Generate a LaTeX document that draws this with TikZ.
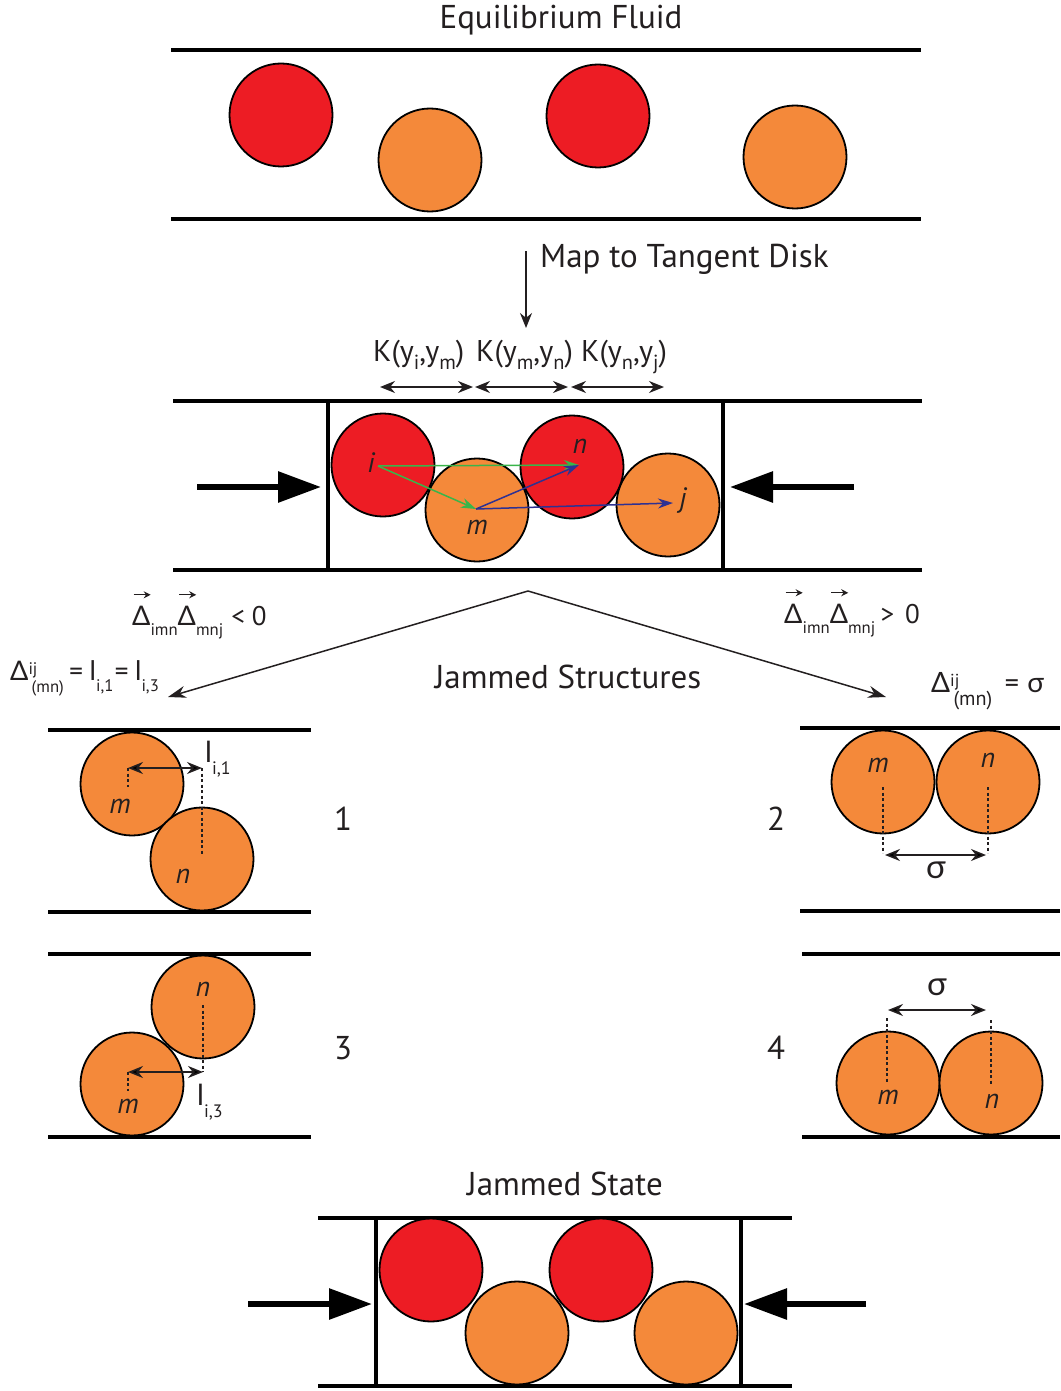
\documentclass[tikz,border=0pt]{standalone}
\usepackage{fontspec}
\usepackage{graphicx}
\setmainfont{PT Sans}
\newfontfamily\gk{Lato}
\usetikzlibrary{arrows.meta}
\definecolor{dred}{RGB}{237,28,36}
\definecolor{dorange}{RGB}{244,137,58}
\definecolor{dgreen}{RGB}{57,181,74}
\definecolor{dblue}{RGB}{46,49,146}
\definecolor{ink}{RGB}{35,31,32}
\newcommand\Dl{{\gk Δ}}
\newcommand\sg{{\gk σ}}
\newcommand\myl{{\gk l}}
\newcommand\sbs[2][0.38em]{\raisebox{-#1}{\scalebox{0.62}{#2}}}
\newcommand\ksb[1]{\raisebox{-0.27em}{\scalebox{0.68}{#1}}}
\newcommand\sps[2][0.2em]{\raisebox{#1}{\scalebox{0.62}{#2}}}
\newcommand\sbsp[3][0.62]{\rlap{\sps{#2}}\hspace{0.12em}\raisebox{-0.48em}{\scalebox{#1}{#3}}}
\newcommand\varr{\tikz[baseline=0pt,x=1pt,y=1pt]\draw[draw=ink,line width=1.4pt,-{Stealth[length=7pt,width=7pt,fill=ink]}] (0,0)--(17,0);}
\newcommand\vD{\rlap{\hspace{0.03em}\raisebox{1.12em}{\varr}}\Dl}
\begin{document}
\begin{tikzpicture}[x=1pt,y=-1pt,
  disk/.style={circle,draw=black,line width=1.8pt,minimum size=103pt,inner sep=0pt},
  rdisk/.style={disk,fill=dred},
  odisk/.style={disk,fill=dorange},
  wallline/.style={line width=3.5pt,draw=black},
  sidewall/.style={line width=3.2pt,draw=black},
  lbl/.style={font=\fontsize{33}{38}\selectfont,text=ink,inner sep=0pt,anchor=base},
  klbl/.style={font=\fontsize{30}{34}\selectfont,text=ink,inner sep=0pt,anchor=base west},
  dlbl/.style={font=\fontsize{27}{32}\selectfont,text=ink,inner sep=0pt,anchor=base west},
  ital/.style={font=\fontsize{28}{32}\selectfont\itshape,text=ink,inner sep=0pt},
  bigarrow/.style={line width=6pt,-{Triangle[length=43pt,width=30pt]}},
  dimarrow/.style={line width=1.6pt,draw=ink,{Stealth[length=15pt,width=12pt]}-{Stealth[length=15pt,width=12pt]}},
  thinarrow/.style={line width=1.4pt,draw=ink,-{Stealth[length=15pt,width=12pt]}},
  varrow/.style={line width=1.5pt,draw=ink,-{Stealth[length=18pt,width=12pt]}},
  garrow/.style={line width=1.5pt,draw=dgreen,-{Stealth[length=15pt,width=10pt,fill=dgreen]}},
  barrow/.style={line width=1.5pt,draw=dblue,-{Stealth[length=15pt,width=10pt,fill=dblue]}},
  dsh/.style={line width=1.4pt,draw=ink,dash pattern=on 3pt off 2.5pt}
]
\useasboundingbox (0,0) rectangle (1060,1391);

% ---------- Equilibrium fluid ----------
\node[lbl] (title1) at (561,29) {Equilibrium Fluid};
\draw[wallline] (171,50) -- (921,50);
\draw[wallline] (171,219) -- (921,219);
\node[rdisk] (e1) at (281,115) {};
\node[odisk] (e2) at (430,160) {};
\node[rdisk] (e3) at (598,116) {};
\node[odisk] (e4) at (795,157) {};

% ---------- Map arrow ----------
\coordinate (ma) at (526,251);
\coordinate (mb) at (526,328);
\draw[thinarrow] (ma) -- (mb);
\node[lbl,anchor=base west] (maptxt) at (540,267) {Map to Tangent Disk};

% ---------- K labels ----------
\node[klbl] (k1) at (373,361) {K(y\ksb{i},y\ksb{m})};
\node[klbl] (k2) at (476,361) {K(y\ksb{m},y\ksb{n})};
\node[klbl] (k3) at (581,361) {K(y\ksb{n},y\ksb{j})};
\coordinate (ka0) at (380,387); \coordinate (ka1) at (473,387);
\coordinate (kb0) at (475,387); \coordinate (kb1) at (568,387);
\coordinate (kc0) at (571,387); \coordinate (kc1) at (664,387);
\draw[dimarrow] (ka0) -- (ka1);
\draw[dimarrow] (kb0) -- (kb1);
\draw[dimarrow] (kc0) -- (kc1);

% ---------- Tangent disk panel ----------
\draw[wallline] (173,401) -- (922,401);
\draw[wallline] (173,570) -- (922,570);
\draw[sidewall] (328,401) -- (328,570);
\draw[sidewall] (723,401) -- (723,570);
\node[rdisk] (di) at (383,465) {};
\node[odisk] (dm) at (477,510) {};
\node[rdisk] (dn) at (572,467) {};
\node[odisk] (dj) at (668,505) {};
\coordinate (pi) at (378,466);
\coordinate (pm) at (476,509);
\coordinate (pn) at (579,465);
\coordinate (pj) at (673,503);
\draw[garrow] (pi) -- (pn);
\draw[garrow] (pi) -- (pm);
\draw[barrow] (pm) -- (pn);
\draw[barrow] (pm) -- (pj);
\node[ital] (li) at (371,463) {i};
\node[ital] (ln) at (580,446) {n};
\node[ital] (lm) at (477,527) {m};
\node[ital] (lj) at (683,500) {j};
\coordinate (la0) at (197,487); \coordinate (la1) at (321,487);
\coordinate (ra0) at (854,487); \coordinate (ra1) at (730,487);
\draw[bigarrow] (la0) -- (la1);
\draw[bigarrow] (ra0) -- (ra1);

% ---------- Branch ----------
\coordinate (apex) at (528,591);
\coordinate (vl) at (168,697);
\coordinate (vr) at (886,697);
\draw[varrow] (apex) -- (vl);
\draw[varrow] (apex) -- (vr);
\node[lbl] (js) at (568,688) {Jammed Structures};
\node[dlbl] (cl1) at (132,625) {\vD\sbs{imn}\vD\sbs{mnj}\hspace{0.3em}<\hspace{0.25em}0};
\node[dlbl] (cl2) at (10,680) {\Dl\sbsp{ij}{(mn)}\hspace{0.2em}=\hspace{0.25em}\myl\sbs[0.42em]{i,1}\hspace{0.05em}=\hspace{0.25em}\myl\sbs[0.42em]{i,3}};
\node[dlbl] (cr1) at (784,623) {\vD\sbs{imn}\vD\sbs{mnj}\hspace{0.2em}>\hspace{0.4em}0};
\node[dlbl,font=\fontsize{28}{32}\selectfont] (cr2) at (931,692) {\Dl\sbsp[0.72]{ij}{(mn)}\hspace{0.45em}=\hspace{0.3em}\sg};

% ---------- Panel 1 ----------
\draw[wallline] (48,730) -- (311,730);
\draw[wallline] (48,912) -- (311,912);
\node[odisk] (p1m) at (132,784) {};
\node[odisk] (p1n) at (202,859) {};
\coordinate (p1a) at (128,768); \coordinate (p1b) at (128,787);
\coordinate (p1c) at (202,768); \coordinate (p1d) at (202,855);
\draw[dsh] (p1a) -- (p1b);
\draw[dsh] (p1c) -- (p1d);
\draw[dimarrow] (p1a) -- (p1c);
\node[ital] (p1ml) at (120,806) {m};
\node[ital] (p1nl) at (183,876) {n};
\node[dlbl,font=\fontsize{29}{34}\selectfont] (p1l) at (205,762) {\myl\sbs[0.42em]{i,1}};
\node[lbl] (n1) at (343,830) {1};

% ---------- Panel 2 ----------
\draw[wallline] (800,728) -- (1060,728);
\draw[wallline] (800,911) -- (1060,911);
\node[odisk] (p2m) at (883,782) {};
\node[odisk] (p2n) at (988,782) {};
\coordinate (p2a) at (883,787); \coordinate (p2b) at (883,853);
\coordinate (p2c) at (988,787); \coordinate (p2d) at (988,853);
\draw[dsh] (p2a) -- (p2b);
\draw[dsh] (p2c) -- (p2d);
\coordinate (p2e) at (885,855); \coordinate (p2f) at (986,855);
\draw[dimarrow] (p2e) -- (p2f);
\node[ital] (p2ml) at (878,765) {m};
\node[ital] (p2nl) at (988,760) {n};
\node[lbl] (p2s) at (936,878) {\sg};
\node[lbl] (n2) at (776,830) {2};

% ---------- Panel 3 ----------
\draw[wallline] (48,954) -- (311,954);
\draw[wallline] (48,1137) -- (311,1137);
\node[odisk] (p3n) at (203,1007) {};
\node[odisk] (p3m) at (132,1084) {};
\coordinate (p3a) at (203,1005); \coordinate (p3b) at (203,1072);
\coordinate (p3c) at (128,1072); \coordinate (p3d) at (128,1091);
\draw[dsh] (p3a) -- (p3b);
\draw[dsh] (p3c) -- (p3d);
\draw[dimarrow] (p3c) -- (p3b);
\node[ital] (p3nl) at (203,989) {n};
\node[ital] (p3ml) at (128,1106) {m};
\node[dlbl,font=\fontsize{29}{34}\selectfont] (p3l) at (197,1105) {\myl\sbs[0.42em]{i,3}};
\node[lbl] (n3) at (343,1059) {3};

% ---------- Panel 4 ----------
\draw[wallline] (802,954) -- (1060,954);
\draw[wallline] (802,1137) -- (1060,1137);
\node[odisk] (p4m) at (888,1083) {};
\node[odisk] (p4n) at (991,1083) {};
\coordinate (p4a) at (887,1018); \coordinate (p4b) at (887,1082);
\coordinate (p4c) at (991,1020); \coordinate (p4d) at (991,1085);
\draw[dsh] (p4a) -- (p4b);
\draw[dsh] (p4c) -- (p4d);
\coordinate (p4e) at (888,1010); \coordinate (p4f) at (986,1010);
\draw[dimarrow] (p4e) -- (p4f);
\node[ital] (p4ml) at (888,1097) {m};
\node[ital] (p4nl) at (992,1101) {n};
\node[lbl] (p4s) at (937,995) {\sg};
\node[lbl] (n4) at (776,1059) {4};

% ---------- Jammed state ----------
\node[lbl] (title2) at (565,1195) {Jammed State};
\draw[wallline] (318,1218) -- (792,1218);
\draw[wallline] (318,1386) -- (792,1386);
\draw[sidewall] (376,1218) -- (376,1386);
\draw[sidewall] (741,1218) -- (741,1386);
\node[rdisk] (s1) at (431,1270) {};
\node[odisk] (s2) at (517,1333) {};
\node[rdisk] (s3) at (601,1270) {};
\node[odisk] (s4) at (686,1333) {};
\coordinate (sl0) at (248,1304); \coordinate (sl1) at (372,1304);
\coordinate (sr0) at (866,1304); \coordinate (sr1) at (744,1304);
\draw[bigarrow] (sl0) -- (sl1);
\draw[bigarrow] (sr0) -- (sr1);
\end{tikzpicture}
\end{document}
